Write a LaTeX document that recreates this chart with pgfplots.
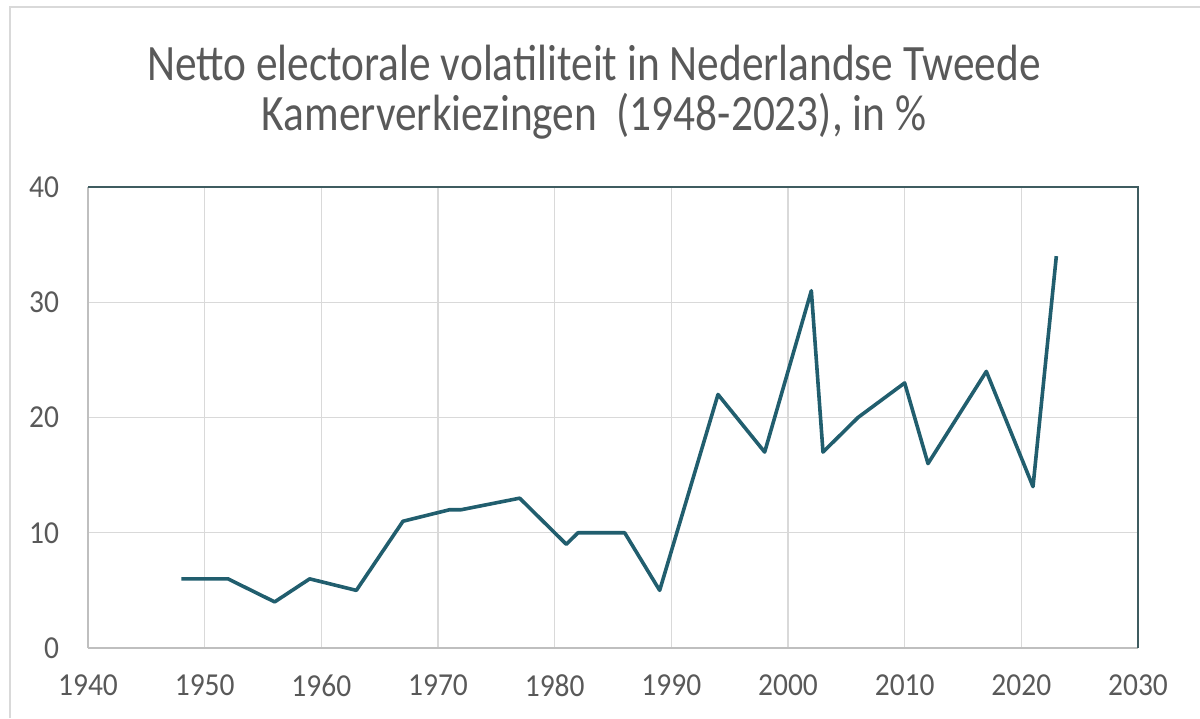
\documentclass[border=0pt]{standalone}
\usepackage{pgfplots}
\pgfplotsset{compat=1.18}
\usepackage{fontspec}
\setmainfont{Carlito}
\newfontfamily\titlefont[FakeStretch=0.85]{Carlito}
\newfontfamily\tickfont[FakeStretch=0.92]{Carlito}
\definecolor{linecol}{HTML}{215E6E}
\definecolor{txtgray}{HTML}{595959}
\definecolor{gridgray}{HTML}{D9D9D9}
\definecolor{axgray}{HTML}{BFBFBF}
\definecolor{darkframe}{HTML}{3F5C60}
\begin{document}
\begin{tikzpicture}
\useasboundingbox (0,0) rectangle (600pt,-359pt);
\draw[gridgray, line width=0.8pt] (5pt,-359pt) -- (5pt,-3.5pt) -- (600pt,-3.5pt);
\node[txtgray, font=\titlefont\fontsize{25.5}{25}\selectfont, align=center, anchor=center] at (297pt,-46pt)
  {Netto electorale volatiliteit in Nederlandse Tweede\\Kamerverkiezingen\ \ (1948-2023), in \%};
\begin{axis}[
  at={(44pt,-324pt)}, anchor=south west,
  scale only axis, width=525pt, height=230.5pt,
  xmin=1940, xmax=2030, ymin=0, ymax=40,
  xtick={1940,1950,...,2030}, ytick={0,10,...,40},
  xticklabel style={/pgf/number format/1000 sep={}},
  /pgf/number format/assume math mode=true,
  tick label style={txtgray, font=\tickfont\fontsize{16}{18}\selectfont},
  xticklabel style={yshift=-10pt},
  yticklabel style={xshift=-11pt},
  major tick length=0pt,
  grid=major, major grid style={gridgray, line width=0.6pt},
  axis line style={axgray, line width=0.8pt},
  axis x line*=bottom, axis y line*=left,
  clip=false,
]
\addplot[linecol, line width=1.8pt, line join=round] coordinates {
(1948,6) (1952,6) (1956,4) (1959,6) (1963,5) (1967,11) (1971,12) (1972,12)
(1977,13) (1981,9) (1982,10) (1986,10) (1989,5) (1994,22) (1998,17)
(2002,31) (2003,17) (2006,20) (2010,23) (2012,16) (2017,24) (2021,14) (2023,34)
};
\draw[darkframe, line width=0.8pt] (axis cs:1940,40) -- (axis cs:2030,40) -- (axis cs:2030,0);
\end{axis}
\end{tikzpicture}
\end{document}
